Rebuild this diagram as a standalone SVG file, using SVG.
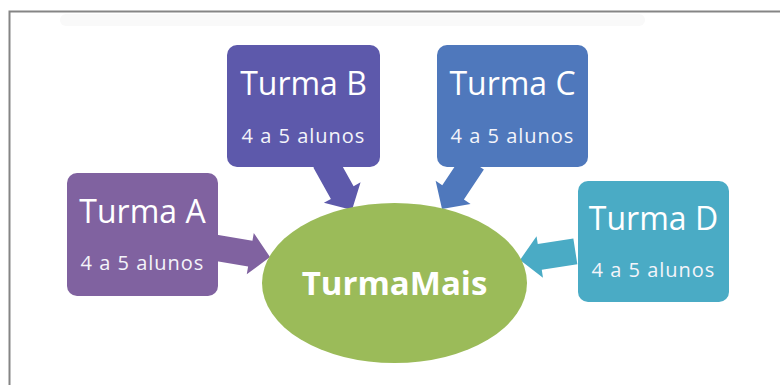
<svg xmlns="http://www.w3.org/2000/svg" width="780" height="385" viewBox="0 0 780 385">
<style>
.title{font-family:"Open Sans","Liberation Sans",sans-serif;font-size:32px;fill:#ffffff;text-anchor:middle}
.sub{font-family:"Open Sans","Liberation Sans",sans-serif;font-size:20px;fill:#f4f4fa;text-anchor:middle;letter-spacing:1px}
.main{font-family:"Open Sans","Liberation Sans",sans-serif;font-size:33px;font-weight:bold;fill:#ffffff;text-anchor:middle}
</style>
<defs>
<path id="arr" d="M0,0 L-20,-21 L-20,-13 L-56,-13 L-56,13 L-20,13 L-20,21 Z"/>
</defs>
<rect x="0" y="0" width="780" height="385" fill="#ffffff"/>
<rect x="60" y="14" width="585" height="12" rx="6" fill="#f9f9f9"/>
<path d="M9.5,385 L9.5,11.5 L780,11.5" fill="none" stroke="#858585" stroke-width="2"/>
<g id="connectors">
<use href="#arr" fill="#8062a0" transform="translate(270,257) rotate(9.6)"/>
<use href="#arr" fill="#5d59ab" transform="translate(352,210) rotate(60.8)"/>
<use href="#arr" fill="#4f78bc" transform="translate(442,209) rotate(123.7)"/>
<use href="#arr" fill="#4aabc5" transform="translate(520,260) rotate(171.2)"/>
</g>
<g id="turmamais">
<ellipse cx="394.5" cy="283" rx="132.5" ry="80" fill="#9bbb59"/>
<text class="main" x="394.5" y="295">TurmaMais</text>
</g>
<g id="turmaA">
<rect x="67" y="173" width="151" height="123" rx="10" fill="#8062a0"/>
<text class="title" x="142.5" y="223">Turma A</text>
<text class="sub" x="142.5" y="270">4 a 5 alunos</text>
</g>
<g id="turmaB">
<rect x="227" y="45" width="153" height="122" rx="10" fill="#5d59ab"/>
<text class="title" x="303.5" y="95">Turma B</text>
<text class="sub" x="303.5" y="143">4 a 5 alunos</text>
</g>
<g id="turmaC">
<rect x="437" y="45" width="151" height="122" rx="10" fill="#4f78bc"/>
<text class="title" x="512.5" y="95">Turma C</text>
<text class="sub" x="512.5" y="143">4 a 5 alunos</text>
</g>
<g id="turmaD">
<rect x="578" y="181" width="151" height="121" rx="10" fill="#4aabc5"/>
<text class="title" x="653.5" y="230">Turma D</text>
<text class="sub" x="653.5" y="277">4 a 5 alunos</text>
</g>
</svg>
